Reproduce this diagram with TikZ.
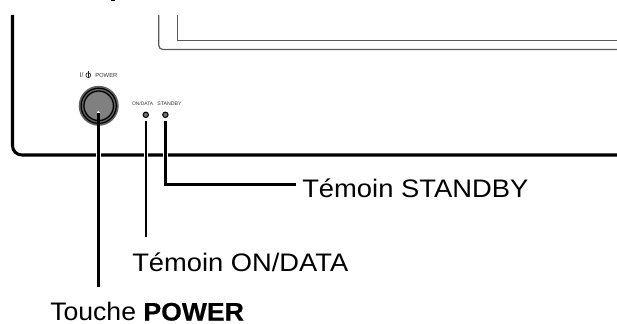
\documentclass[tikz,border=0pt]{standalone}
\usepackage{fontspec}
\setmainfont{Liberation Sans}
\tikzset{
  heavy/.style={line width=2.3pt,black},
  leader/.style={line width=1.8pt,black},
  thin/.style={line width=.9pt,draw=black!65},
  lab/.style={inner sep=0pt,anchor=base west},
  tiny/.style={inner sep=0pt,anchor=base west,text=black!80},
  led/.style={circle,fill=black!55,draw=black,line width=.8pt,minimum size=4pt,inner sep=0pt},
}
\newcommand{\labfont}[1]{\fontsize{19}{21}\selectfont\addfontfeature{FakeStretch=#1}}
\begin{document}
\begin{tikzpicture}[x=0.75pt,y=-0.75pt]
\useasboundingbox (0,0) rectangle (617,324);
\fill[black] (111,0) rectangle (115,1.2);
\coordinate (oa) at (12.5,15);
\coordinate (ob) at (617,155);
\coordinate (ia) at (158.8,15);
\coordinate (ib) at (617,49.5);
\coordinate (ja) at (177.2,15);
\coordinate (jb) at (617,40.7);
\draw[heavy,rounded corners=7pt] (oa) |- (ob);
\draw[thin,rounded corners=3pt] (ia) |- (ib);
\draw[thin] (ja) |- (jb);
% button
\coordinate (btn) at (98.7,105.8);
\fill[black!62] (btn) circle[radius=20];
\draw[line width=.9pt,black] (btn) circle[radius=17.6];
\draw[line width=.9pt,black] (btn) circle[radius=14.8];
\fill[black!50] (btn) circle[radius=13.6];
\node[led] (l1) at (145.8,114.8) {};
\node[led] (l2) at (165.4,114.8) {};
\node[tiny,font=\fontsize{4.4}{5}\selectfont] (pw) at (95,77.5) {POWER};
\node[tiny,font=\fontsize{3.7}{5}\selectfont] (t1) at (131.8,105.5) {ON/DATA};
\node[tiny,font=\fontsize{3.9}{5}\selectfont] (t2) at (157.2,105.5) {STANDBY};
\node[tiny,font=\fontsize{5}{5}\selectfont] (sym) at (79.5,77.8) {I/};
\draw[black!85,line width=.5pt] (88.3,75.2) circle[radius=2.4];
\draw[black!85,line width=.6pt] (88.3,71.2) -- (88.3,78);
% leaders
\coordinate (p0) at (98.4,113.5);
\coordinate (p1) at (98.4,286.5);
\coordinate (q0) at (145.9,121.5);
\coordinate (q1) at (145.9,237);
\coordinate (r0) at (165.5,121.5);
\coordinate (r1) at (296,184.5);
\draw[white,line width=2.8pt,line cap=round] (98.4,113) -- (98.4,122);
\draw[white,line width=3.6pt] (98.4,149) -- (98.4,161);
\draw[leader] (p0) -- (p1);
\draw[white,line width=3.6pt] (145.9,149) -- (145.9,161);
\draw[white,line width=3.6pt] (165.5,149) -- (165.5,161);
\draw[leader] (q0) -- (q1);
\draw[leader] (r0) |- (r1);
\node[lab,font=\labfont{1.08}] (a) at (302,197.7) {Témoin STANDBY};
\node[lab,font=\labfont{1.078}] (b) at (132,271.5) {Témoin ON/DATA};
\node[lab,font=\labfont{1.05}] (c) at (50,320.5) {Touche {\bfseries\addfontfeature{FakeBold=0.5}POWER}};
\end{tikzpicture}
\end{document}
